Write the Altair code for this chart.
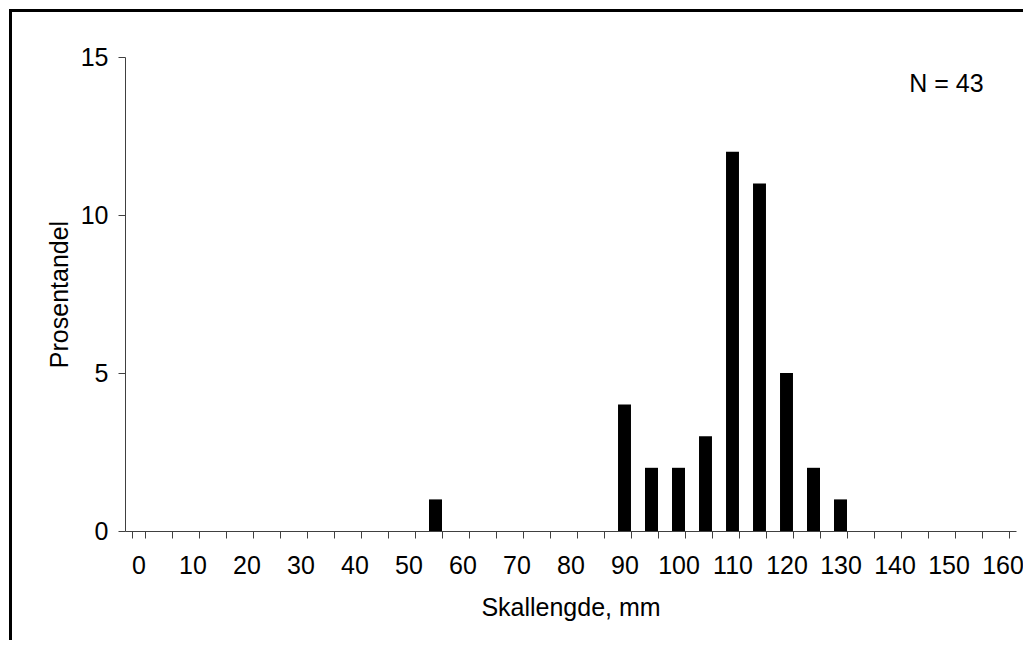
import altair as alt
import pandas as pd

# Data
lengths = [0, 5, 10, 15, 20, 25, 30, 35, 40, 45, 50, 55, 60, 65, 70, 75, 80, 85,
           90, 95, 100, 105, 110, 115, 120, 125, 130, 135, 140, 145, 150, 155, 160]
counts = [0, 0, 0, 0, 0, 0, 0, 0, 0, 0, 0, 1, 0, 0, 0, 0, 0, 0,
          4, 2, 2, 3, 12, 11, 5, 2, 1, 0, 0, 0, 0, 0, 0]
y_ticks = [0, 5, 10, 15]
n_label = "N = 43"

FONT = "Liberation Sans"
FS = 25

df = pd.DataFrame({"length": lengths, "count": counts})

x_scale = alt.Scale(domain=lengths, paddingInner=0.52, paddingOuter=0.26)
y_scale = alt.Scale(domain=[0, 15])

bars = alt.Chart(df).mark_bar(color="black").encode(
    x=alt.X("length:O", scale=x_scale,
            axis=alt.Axis(title="Skallengde, mm", labelAngle=0, tickBand="extent",
                          labelExpr="datum.value % 10 == 0 ? datum.label : ''",
                          tickSize=7, labelPadding=15, titlePadding=17,
                          labelFontSize=FS, titleFontSize=FS, labelFont=FONT, titleFont=FONT,
                          labelColor="black", titleColor="black", titleFontWeight="normal",
                          domainColor="#404040", tickColor="#404040")),
    y=alt.Y("count:Q", scale=y_scale,
            axis=alt.Axis(title="Prosentandel", values=y_ticks, grid=False,
                          tickSize=7, labelPadding=10, titlePadding=8,
                          labelFontSize=FS, titleFontSize=FS, labelFont=FONT, titleFont=FONT,
                          labelColor="black", titleColor="black", titleFontWeight="normal",
                          domainColor="#404040", tickColor="#404040")),
)

ntext = alt.Chart(alt.Data(values=[{"label": n_label}])).mark_text(
    font=FONT, fontSize=FS, color="black"
).encode(
    x=alt.value(821.5), y=alt.value(27),
    text="label:N",
)

frame = alt.Chart(alt.Data(values=[{}])).mark_rect(
    fill=None, stroke="black", strokeWidth=3
).encode(
    x=alt.value(-114.5), x2=alt.value(960),
    y=alt.value(-46.5), y2=alt.value(700),
)

chart = alt.layer(bars, ntext, frame).properties(
    width=891, height=474,
    padding={"left": 117, "top": 49, "right": 7, "bottom": 109},
    autosize=alt.AutoSizeParams(type="none"),
).configure_view(stroke=None)

chart.save("out.html", embed_options={"renderer": "svg", "actions": False})
